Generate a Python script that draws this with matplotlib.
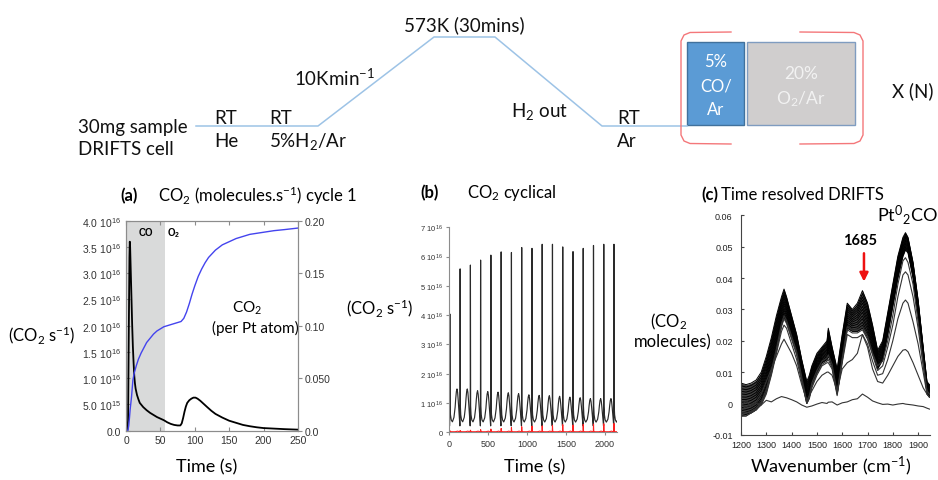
import numpy as np
import matplotlib
matplotlib.use('Agg')
import matplotlib.pyplot as plt
from matplotlib.patches import Rectangle

plt.rcParams['font.family'] = ['Lato', 'DejaVu Sans']

# ---------------- data ----------------
# schematic temperature programme (pixel layout of the flow diagram)
prog_x = [196, 318, 434, 495, 602, 687]
prog_y = [127, 127, 38, 38, 127, 127]

# panel (a): cycle 1
t_a = [0, 2, 3, 4, 5, 5.5, 6, 7, 8, 9, 10, 11, 12, 13, 14, 16, 18, 20, 25, 30, 35, 40,
       45, 50, 55, 60, 65, 70, 75, 79, 81, 83, 85, 87, 89, 92, 95, 98, 101, 104, 108,
       113, 118, 124, 130, 140, 150, 160, 170, 180, 190, 200, 215, 230, 250]
co2_a = [0, 0, 0.2, 1.8, 3.3, 3.6, 3.5, 3.0, 2.5, 2.0, 1.6, 1.3, 1.05, 0.9, 0.8, 0.68,
         0.6, 0.53, 0.45, 0.39, 0.34, 0.3, 0.26, 0.23, 0.2, 0.16, 0.13, 0.11, 0.1, 0.1,
         0.14, 0.24, 0.36, 0.46, 0.53, 0.58, 0.61, 0.63, 0.63, 0.61, 0.57, 0.51, 0.45,
         0.38, 0.32, 0.25, 0.19, 0.15, 0.11, 0.085, 0.065, 0.05, 0.04, 0.03, 0.02]  # x1e16
t_cum = [0, 2, 3, 4, 5, 6, 8, 10, 12, 15, 18, 22, 26, 30, 35, 40, 45, 50, 55, 60, 65, 70,
         75, 80, 84, 88, 92, 96, 100, 105, 110, 115, 120, 130, 140, 150, 160, 170, 180,
         190, 200, 215, 230, 250]
cum_a = [0, 0, 0.001, 0.005, 0.012, 0.02, 0.032, 0.048, 0.055, 0.062, 0.068, 0.074, 0.079,
         0.084, 0.088, 0.092, 0.095, 0.097, 0.099, 0.1, 0.101, 0.102, 0.103, 0.104, 0.107,
         0.113, 0.121, 0.13, 0.138, 0.147, 0.154, 0.16, 0.165, 0.172, 0.177, 0.18, 0.183,
         0.185, 0.187, 0.188, 0.189, 0.1905, 0.1915, 0.193]
co_end = 56

# panel (b): cyclical
spike_t = [5, 137, 269, 400, 532, 664, 796, 928, 1060, 1191, 1323, 1455, 1587, 1718, 1850, 1982, 2113]
spike_h = [4.04, 5.58, 5.71, 5.88, 6.05, 6.16, 6.14, 6.31, 6.28, 6.42, 6.42, 6.33, 6.17, 6.28, 6.38, 6.42, 6.42]
bump_peak = [1.48, 1.48, 1.42, 1.39, 1.37, 1.35, 1.32, 1.28, 1.26, 1.25, 1.23, 1.2, 1.18, 1.15, 1.15, 1.15, 1.15]
red_h = [0.05, 0.06, 0.07, 0.09, 0.11, 0.13, 0.16, 0.19, 0.21, 0.22, 0.24, 0.26, 0.25, 0.27, 0.28, 0.29, 0.30]
cyc_dt = [-1, 0, 2, 5, 10, 20, 35, 55, 70, 78, 86, 94, 102, 110, 118, 126]
cyc_base = [0.22, 0.3, 0, 0.9, 0.6, 0.42, 0.32, 0.26, 0.23, 0.22, 0.22, 0.22, 0.22, 0.22, 0.22, 0.22]
cyc_spike = [0, 0, 1, 0, 0, 0, 0, 0, 0, 0, 0, 0, 0, 0, 0, 0]
cyc_bump = [0, 0, 0, 0, 0, 0, 0.03, 0.2, 0.5, 0.75, 0.93, 1.0, 0.9, 0.68, 0.42, 0.16]
red_dt = [-1, 0, 2, 5, 10, 20, 40, 70, 90, 100, 110, 126]
red_base = [0.02, 0.02, 0, 0.05, 0.03, 0.02, 0.02, 0.02, 0.03, 0.04, 0.03, 0.02]
red_spk = [0, 0, 1, 0, 0, 0, 0, 0, 0, 0, 0, 0]

# panel (c): DRIFTS spectra
wn = [1200, 1220, 1240, 1260, 1280, 1300, 1320, 1340, 1360, 1370, 1380, 1400, 1420, 1440,
      1460, 1470, 1480, 1500, 1520, 1540, 1545, 1560, 1580, 1600, 1620, 1640, 1660, 1680,
      1700, 1720, 1740, 1760, 1780, 1800, 1820, 1840, 1850, 1860, 1880, 1900, 1920, 1935, 1945]
band_top = [0.0065, 0.006, 0.0065, 0.0075, 0.010, 0.015, 0.021, 0.028, 0.034, 0.0365, 0.034,
            0.028, 0.022, 0.014, 0.007, 0.009, 0.012, 0.016, 0.018, 0.020, 0.024, 0.018, 0.011,
            0.022, 0.032, 0.030, 0.032, 0.036, 0.032, 0.025, 0.017, 0.020, 0.029, 0.038, 0.047,
            0.053, 0.0545, 0.053, 0.045, 0.033, 0.018, 0.007, 0.006]
band_bot = [-0.004, -0.0035, -0.003, -0.002, 0.000, 0.004, 0.010, 0.017, 0.025, 0.0275, 0.026,
            0.021, 0.016, 0.008, 0.000, 0.002, 0.006, 0.010, 0.013, 0.014, 0.015, 0.012, 0.003,
            0.014, 0.024, 0.023, 0.023, 0.024, 0.021, 0.016, 0.011, 0.014, 0.022, 0.031, 0.040,
            0.047, 0.049, 0.048, 0.040, 0.028, 0.014, 0.003, 0.002]
band_w = [0, 0.08, 0.16, 0.25, 0.33, 0.42, 0.5, 0.58, 0.67, 0.75, 0.83, 0.92, 1.0]
spec4 = [-0.003, -0.003, -0.0025, -0.0015, 0.0005, 0.0045, 0.0105, 0.0175, 0.0255, 0.028, 0.0265,
         0.0215, 0.0165, 0.0085, 0.0005, 0.0025, 0.0065, 0.0105, 0.0135, 0.0145, 0.0155, 0.0125,
         0.0035, 0.0145, 0.0245, 0.0235, 0.0235, 0.0245, 0.0215, 0.016, 0.012, 0.0135, 0.020,
         0.028, 0.038, 0.0455, 0.0465, 0.045, 0.038, 0.026, 0.013, 0.004, 0.003]
spec3 = [-0.004, -0.004, -0.003, -0.002, 0.0, 0.0035, 0.0095, 0.0165, 0.0245, 0.027, 0.0255,
         0.0205, 0.0155, 0.0075, 0.0, 0.002, 0.0055, 0.0095, 0.0125, 0.0135, 0.014, 0.0115,
         0.003, 0.0135, 0.0235, 0.0225, 0.0225, 0.0235, 0.0205, 0.0155, 0.0105, 0.012, 0.018,
         0.025, 0.034, 0.041, 0.042, 0.041, 0.034, 0.024, 0.012, 0.004, 0.003]
spec2 = [-0.004, -0.004, -0.003, -0.002, -0.0005, 0.003, 0.009, 0.016, 0.023, 0.025, 0.024,
         0.019, 0.014, 0.007, 0.0, 0.0015, 0.005, 0.009, 0.012, 0.013, 0.013, 0.011, 0.0025,
         0.013, 0.022, 0.021, 0.021, 0.022, 0.019, 0.0135, 0.009, 0.0095, 0.014, 0.020, 0.027,
         0.032, 0.033, 0.032, 0.026, 0.019, 0.010, 0.003, 0.002]
spec1 = [-0.002, -0.001, -0.0005, 0.0005, 0.003, 0.007, 0.011, 0.015, 0.019, 0.0205, 0.019,
         0.016, 0.012, 0.006, 0.001, 0.0025, 0.004, 0.007, 0.009, 0.010, 0.010, 0.009, 0.004,
         0.011, 0.013, 0.014, 0.016, 0.022, 0.018, 0.011, 0.007, 0.0065, 0.009, 0.012, 0.015,
         0.017, 0.0172, 0.0165, 0.013, 0.009, 0.005, 0.003, 0.002]
spec0 = [-0.001, 0.001, -0.001, 0.0, -0.0005, 0.001, 0.0005, 0.0015, 0.0022, 0.002, 0.0018,
         0.0012, 0.0005, -0.0005, -0.0012, -0.001, -0.0008, -0.0002, 0.0003, 0.0, 0.0004,
         0.0005, -0.0005, 0.0002, 0.0005, 0.0012, 0.0015, 0.003, 0.002, 0.0008, 0.0002,
         -0.0003, -0.0002, -0.0005, -0.0002, 0.0, -0.0002, -0.0003, -0.0005, -0.0008, -0.001,
         -0.0015, -0.0018]

# ---------------- figure ----------------
W, H = 938, 481
fig = plt.figure(figsize=(W / 100, H / 100), dpi=100)


def px_ax(l, t, r, b, **kw):
    return fig.add_axes([l / W, 1 - b / H, (r - l) / W, (b - t) / H], **kw)


ov = fig.add_axes([0, 0, 1, 1], zorder=5)
ov.set_xlim(0, W)
ov.set_ylim(H, 0)
ov.axis('off')
ov.patch.set_alpha(0)

# ---- schematic ----
ov.plot(prog_x, prog_y, color='#9DC3E6', lw=1.1)
ov.add_patch(Rectangle((687, 43), 57, 83, facecolor='#5B9BD5', edgecolor='#41719C', lw=1))
ov.add_patch(Rectangle((747, 43), 108, 83, facecolor='#D0CECE', edgecolor='#7F9CC0', lw=1))
brk_l_x = [731, 690, 684, 681, 681, 684, 690, 731]
brk_y = [33, 33.5, 36, 42, 136, 142, 144.5, 145]
brk_r_x = [800, 854, 860, 863, 863, 860, 854, 800]
ov.plot(brk_l_x, brk_y, color='#F4777A', lw=1)
ov.plot(brk_r_x, brk_y, color='#F4777A', lw=1)

fs_s = 13.5
sch = dict(fontsize=fs_s, color='#111111', va='center')
ov.text(78, 127, '30mg sample', ha='left', **sch)
ov.text(78, 150, 'DRIFTS cell', ha='left', **sch)
ov.text(214, 118, 'RT', ha='left', **sch)
ov.text(214, 142, 'He', ha='left', **sch)
ov.text(269, 118, 'RT', ha='left', **sch)
ov.text(269, 142, r'5%H$\mathregular{_2}$/Ar', ha='left', **sch)
ov.text(294, 78, r'10Kmin$\mathregular{^{-1}}$', ha='left', **sch)
ov.text(404, 25, '573K (30mins)', ha='left', **sch)
ov.text(511, 112, r'H$\mathregular{_2}$ out', ha='left', **sch)
ov.text(617, 118, 'RT', ha='left', **sch)
ov.text(617, 142, 'Ar', ha='left', **sch)
ov.text(716, 62, '5%', ha='center', va='center', fontsize=12, color='white')
ov.text(716, 86, 'CO/', ha='center', va='center', fontsize=12, color='white')
ov.text(716, 110, 'Ar', ha='center', va='center', fontsize=12, color='white')
ov.text(801, 74, '20%', ha='center', va='center', fontsize=12.5, color='#F2F2F2')
ov.text(801, 99, r'O$\mathregular{_2}$/Ar', ha='center', va='center', fontsize=12.5, color='#F2F2F2')
ov.text(892, 91, 'X (N)', ha='left', **sch)

# ---- labels of bottom panels ----
ov.text(120, 196, '(a)', ha='left', va='center', fontsize=12, fontweight='bold')
ov.text(158, 196, r'CO$\mathregular{_2}$ (molecules.s$\mathregular{^{-1}}$) cycle 1',
        ha='left', va='center', fontsize=12)
ov.text(42, 335, r'(CO$\mathregular{_2}$ s$\mathregular{^{-1}}$)', ha='center', va='center', fontsize=12)
ov.text(207, 467, 'Time (s)', ha='center', va='center', fontsize=13)

ov.text(420, 193, '(b)', ha='left', va='center', fontsize=12, fontweight='bold')
ov.text(467, 193, r'CO$\mathregular{_2}$ cyclical', ha='left', va='center', fontsize=12)
ov.text(380, 308, r'(CO$\mathregular{_2}$ s$\mathregular{^{-1}}$)', ha='center', va='center', fontsize=12)
ov.text(535, 467, 'Time (s)', ha='center', va='center', fontsize=13)

ov.text(701, 195, '(c)', ha='left', va='center', fontsize=12, fontweight='bold')
ov.text(721, 195, 'Time resolved DRIFTS', ha='left', va='center', fontsize=12)
ov.text(669, 322, r'(CO$\mathregular{_2}$', ha='center', va='center', fontsize=12)
ov.text(673, 342, 'molecules)', ha='center', va='center', fontsize=12)
ov.text(831, 466, r'Wavenumber (cm$\mathregular{^{-1}}$)', ha='center', va='center', fontsize=13)

tick_font = 'Liberation Sans'
gray = '#8C8C8C'

# ---------------- panel (a) ----------------
axa = px_ax(126, 221.7, 298, 431.7)
axa.axvspan(0, co_end, color='#D9DADA', lw=0)
axa.plot(t_a, np.array(co2_a) * 1e16, color='black', lw=1.3)
axa.set_xlim(0, 250)
axa.set_ylim(0, 4e16)
axa.set_xticks([0, 50, 100, 150, 200, 250])
a_yt = np.arange(0, 4.01e16, 0.5e16)
axa.set_yticks(a_yt)
a_ylab = ['0.0', r'$\mathregular{5.0\ 10^{15}}$'] + \
    [r'$\mathregular{%.1f\ 10^{16}}$' % (v / 1e16) for v in a_yt[2:]]
axa.set_yticklabels(a_ylab)
axa.tick_params(axis='both', labelsize=7.5, labelfontfamily=tick_font, labelcolor='#333333',
                color=gray, length=3, width=0.8, direction='in', top=True)
axa.tick_params(axis='x', pad=3)
for s in axa.spines.values():
    s.set_color(gray)
    s.set_linewidth(0.8)
axr = axa.twinx()
axr.plot(t_cum, cum_a, color='#4444EE', lw=1.0)
axr.set_ylim(0, 0.2)
axr.set_yticks([0, 0.05, 0.1, 0.15, 0.2])
axr.set_yticklabels(['0.0', '0.050', '0.10', '0.15', '0.20'])
axr.tick_params(axis='y', labelsize=7.5, labelfontfamily=tick_font, labelcolor='#333333',
                color=gray, length=3, width=0.8, direction='out', pad=2)
for s in axr.spines.values():
    s.set_color(gray)
    s.set_linewidth(0.8)
ov.text(146, 233, 'CO', ha='center', va='center', fontsize=7, fontweight='bold',
        family='Liberation Sans')
ov.text(174, 233, r'O$\mathregular{_2}$', ha='center', va='center', fontsize=7,
        fontweight='bold', family='Liberation Sans')
ov.text(247, 308, r'CO$\mathregular{_2}$', ha='center', va='center', fontsize=11)
ov.text(255, 328, '(per Pt atom)', ha='center', va='center', fontsize=11)

# ---------------- panel (b) ----------------
axb = px_ax(449.3, 228.3, 616.7, 433.3)
tb, vb, tr, vr = [0], [0.22], [0], [0.02]
for k in range(len(spike_t)):
    for i in range(len(cyc_dt)):
        tb.append(spike_t[k] + cyc_dt[i])
        vb.append(cyc_base[i] + cyc_spike[i] * spike_h[k] + cyc_bump[i] * (bump_peak[k] - 0.22))
    for i in range(len(red_dt)):
        tr.append(spike_t[k] + red_dt[i])
        vr.append(red_base[i] + red_spk[i] * red_h[k])
axb.plot(tb, np.array(vb) * 1e16, color='#2a2a2a', lw=0.85)
axb.plot(tr, np.array(vr) * 1e16, color='#FF2020', lw=0.8)
axb.set_xlim(0, 2150)
axb.set_ylim(0, 7e16)
axb.set_xticks([0, 500, 1000, 1500, 2000])
axb.set_yticks(np.arange(0, 7.01e16, 1e16))
axb.set_yticklabels(['0'] + [r'$\mathregular{%d\ 10^{16}}$' % k for k in range(1, 8)])
axb.tick_params(axis='y', labelsize=5.5, labelfontfamily=tick_font, labelcolor='#333333',
                color=gray, length=2.5, width=0.8, direction='out', pad=2)
axb.tick_params(axis='x', labelsize=6.5, labelfontfamily=tick_font, labelcolor='#333333',
                color=gray, length=2.5, width=0.8, direction='out', pad=2)
for side in ['top', 'right']:
    axb.spines[side].set_visible(False)
for side in ['left', 'bottom']:
    axb.spines[side].set_color(gray)
    axb.spines[side].set_linewidth(0.8)

# ---------------- panel (c) ----------------
axc = px_ax(741, 216.4, 930, 435.8)
top = np.array(band_top)
bot = np.array(band_bot)
axc.fill_between(wn, bot, top, color='#111111', lw=0, alpha=0.8)
for w in band_w:
    axc.plot(wn, bot + w * (top - bot), color='black', lw=0.7)
for s in [spec4, spec3, spec2, spec1, spec0]:
    axc.plot(wn, s, color='#333333', lw=0.8)
axc.set_xlim(1200, 1947)
axc.set_ylim(-0.01, 0.06)
axc.set_xticks(range(1200, 1901, 100))
axc.set_yticks([-0.01, 0, 0.01, 0.02, 0.03, 0.04, 0.05, 0.06])
axc.set_yticklabels(['-0.01', '0', '0.01', '0.02', '0.03', '0.04', '0.05', '0.06'])
axc.tick_params(axis='y', labelsize=6.5, labelfontfamily=tick_font, labelcolor='#222222',
                color='#444444', length=2.5, width=0.8, direction='in', pad=6)
axc.tick_params(axis='x', labelsize=6.5, labelfontfamily=tick_font, labelcolor='#222222',
                color='#444444', length=2.5, width=0.8, direction='in', pad=4)
for side in ['top', 'right']:
    axc.spines[side].set_visible(False)
for side in ['left', 'bottom']:
    axc.spines[side].set_color('#444444')
    axc.spines[side].set_linewidth(0.8)
axc.annotate('', xy=(1686, 0.0380), xytext=(1686, 0.0488),
             arrowprops=dict(arrowstyle='-|>,head_width=0.25,head_length=0.5',
                             color='#EE1111', lw=1.8))
axc.text(1672, 0.0522, '1685', ha='center', va='center', fontsize=10.5, fontweight='bold')
axc.text(1858, 0.0605, r'Pt$\mathregular{^0}$$\mathregular{_2}$CO', ha='center', va='center',
         fontsize=13, clip_on=False)

fig.savefig('out.png', dpi=100)
